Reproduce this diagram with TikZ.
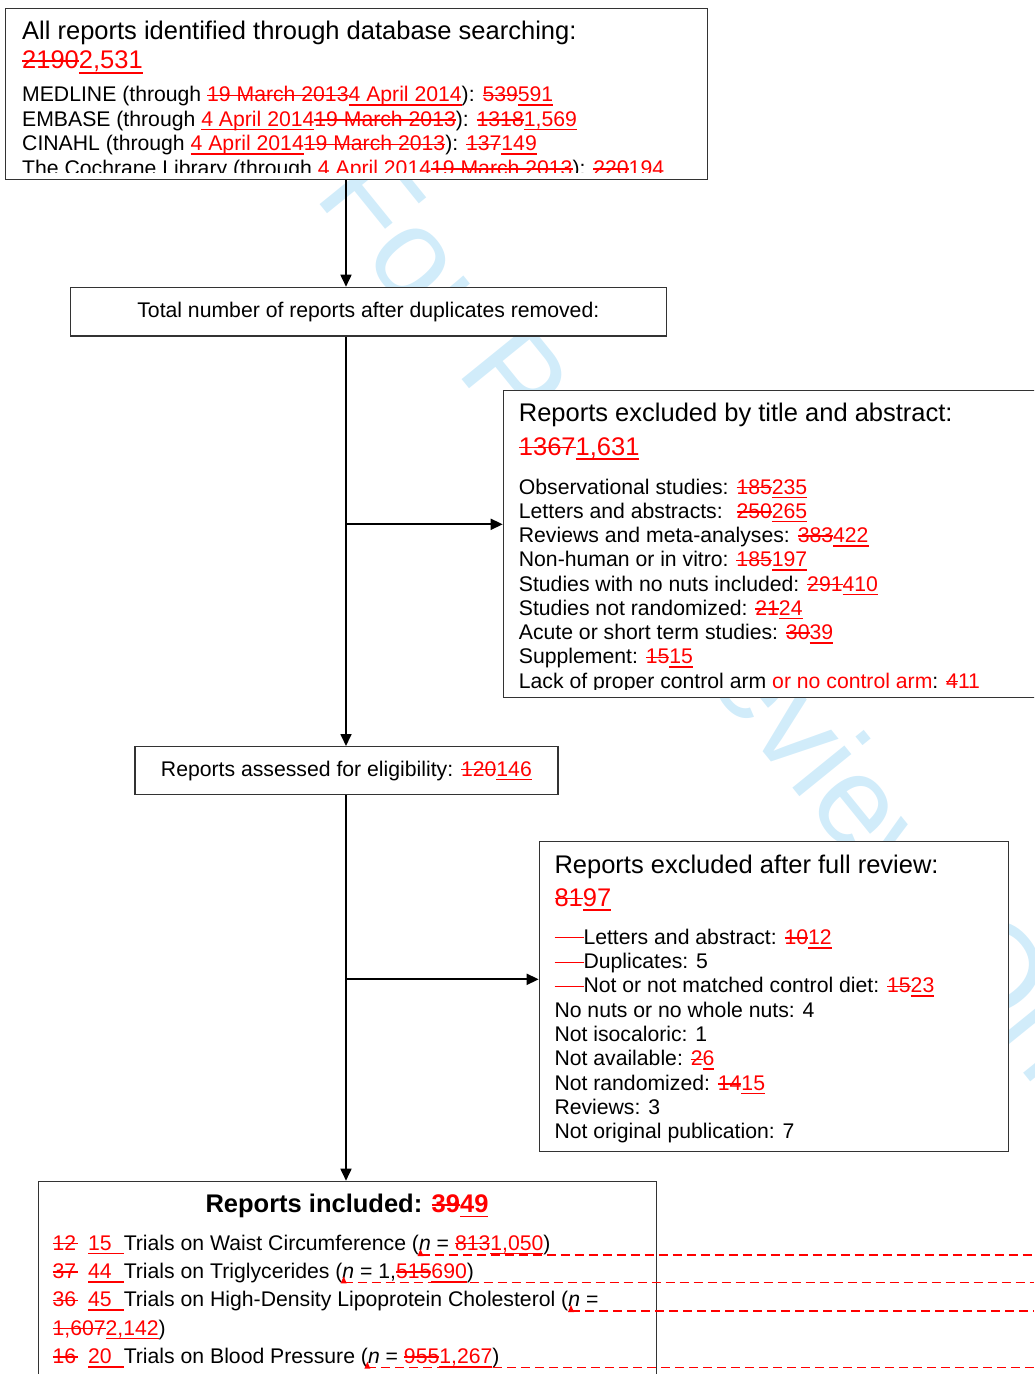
\documentclass[tikz,border=0pt]{standalone}
\usepackage{fontspec}
\setmainfont{Liberation Sans}
\usetikzlibrary{arrows.meta}
\newsavebox{\edbox}
\newcommand{\oldtxt}[1]{\textcolor{red}{\sbox\edbox{#1}\rlap{\rule[0.5ex]{\wd\edbox}{1.5pt}}\usebox\edbox}}
\newcommand{\newtxt}[1]{\textcolor{red}{\sbox\edbox{#1}\rlap{\rule[-0.2em]{\wd\edbox}{1.7pt}}\usebox\edbox}}
\newcommand{\redtxt}[1]{\textcolor{red}{#1}}
\newcommand{\tabdel}[1]{\textcolor{red}{\rule[6pt]{29pt}{#1}}}
\newcommand{\trialnum}[2]{\oldtxt{#1\hspace{2pt}}\hspace{10pt}\newtxt{#2\hspace{12pt}}}
\newcommand{\bodysize}{\fontsize{21.2}{24}\selectfont}
\newcommand{\headsize}{\fontsize{25.5}{30}\selectfont}
\definecolor{wmblue}{RGB}{209,236,250}
\tikzset{
  box/.style={draw=black!80,line width=1.2pt,fill=white,inner sep=0pt,anchor=north west},
  head/.style={font=\headsize,inner sep=0pt,anchor=base west},
  txt/.style={font=\bodysize,inner sep=0pt,anchor=base west},
  flow/.style={line width=1.7pt,-{Triangle[length=12pt,width=11pt]}},
  cmt/.style={red,line width=1.2pt,dash pattern=on 9pt off 5pt}
}
\begin{document}
\begin{tikzpicture}[x=1pt,y=-1pt]
\useasboundingbox (0,0) rectangle (1034,1374);
\clip (0,0) rectangle (1034,1374);
% watermark
\node[wmblue,font=\fontsize{126.7}{127}\selectfont,rotate=-51,inner sep=0pt,anchor=base west] (mark) at (313.6,196.3) {For Peer Review Only};

% boxes
\node[box,minimum width=702pt,minimum height=171pt] (search) at (5,8) {};
\node[box,font=\bodysize,minimum width=596pt,minimum height=48.6pt] (dupl) at (69.7,286.7) {Total number of reports after duplicates removed:};
\node[box,minimum width=545pt,minimum height=307.3pt] (excl1) at (502.7,389.7) {};
\node[box,font=\bodysize,minimum width=423pt,minimum height=48pt] (elig) at (134.3,746) {Reports assessed for eligibility: \oldtxt{120}\newtxt{146}};
\node[box,minimum width=469.3pt,minimum height=309.7pt] (excl2) at (538.7,841) {};
\node[box,minimum width=618pt,minimum height=220pt] (incl) at (37.7,1180.7) {};

% connectors
\coordinate (spine) at (346,0);
\coordinate (br1) at (346,524.3);
\coordinate (br2) at (346,979.3);
\draw[flow] (search.south -| spine) -- (dupl.north -| spine);
\draw[flow] (dupl.south -| spine) -- (elig.north -| spine);
\draw[flow] (elig.south -| spine) -- (incl.north -| spine);
\draw[flow] (br1) -- (br1 -| excl1.west);
\draw[flow] (br2) -- (br2 -| excl2.west);

% database search
\begin{scope}
\clip (5,8) rectangle (707,172);
\node[head] (s-title) at (22,39.3) {All reports identified through database searching:};
\node[head] (s-num) at (22,68.5) {\oldtxt{2190}\newtxt{2,531}};
\foreach \t [count=\i] in {
  {MEDLINE (through \oldtxt{19 March 2013}\newtxt{4 April 2014}): \oldtxt{539}\newtxt{591}},
  {EMBASE (through \newtxt{4 April 2014}\oldtxt{19 March 2013}): \oldtxt{1318}\newtxt{1,569}},
  {CINAHL (through \newtxt{4 April 2014}\oldtxt{19 March 2013}): \oldtxt{137}\newtxt{149}},
  {The Cochrane Library (through \newtxt{4 April 2014}\oldtxt{19 March 2013}): \oldtxt{220}\newtxt{194}}}
  \node[txt] (s-\i) at (22,{101.7+24.5*(\i-1)}) {\t};
\end{scope}

% excluded by title and abstract
\node[head] (x1-title) at (518.7,421.7) {Reports excluded by title and abstract:};
\node[head] (x1-num) at (518.7,455) {\oldtxt{1367}\newtxt{1,631}};
\begin{scope}
\clip (502.7,389.7) rectangle (1034,689);
\foreach \t [count=\i] in {
  {Observational studies: \oldtxt{185}\newtxt{235}},
  {Letters and abstracts: \ \oldtxt{250}\newtxt{265}},
  {Reviews and meta-analyses: \oldtxt{383}\newtxt{422}},
  {Non-human or in vitro: \oldtxt{185}\newtxt{197}},
  {Studies with no nuts included: \oldtxt{291}\newtxt{410}},
  {Studies not randomized: \oldtxt{21}\newtxt{24}},
  {Acute or short term studies: \oldtxt{30}\newtxt{39}},
  {Supplement: \oldtxt{15}\newtxt{15}},
  {Lack of proper control arm \redtxt{or no control arm}: \oldtxt{4}\newtxt{11}}}
  \node[txt] (x1-\i) at (518.7,{494+24.25*(\i-1)}) {\t};
\end{scope}

% excluded after full review
\node[head] (x2-title) at (554.3,873.3) {Reports excluded after full review:};
\node[head] (x2-num) at (554.3,906) {\oldtxt{81}\newtxt{97}};
\foreach \t [count=\i] in {
  {\tabdel{1.8pt}Letters and abstract: \oldtxt{10}\newtxt{12}},
  {\tabdel{0.8pt}Duplicates: 5},
  {\tabdel{0.8pt}Not or not matched control diet: \oldtxt{15}\newtxt{23}},
  {No nuts or no whole nuts: 4},
  {Not isocaloric: 1},
  {Not available: \oldtxt{2}\newtxt{6}},
  {Not randomized: \oldtxt{14}\newtxt{15}},
  {Reviews: 3},
  {Not original publication: 7}}
  \node[txt] (x2-\i) at (554.3,{944.3+24.3*(\i-1)}) {\t};

% included
\node[head,font=\headsize\bfseries,anchor=base] (i-title) at (347,1212.3) {Reports included: \oldtxt{39}\newtxt{49}};
\foreach \t [count=\i] in {
  {\trialnum{12}{15}Trials on Waist Circumference (\textit{n} = \oldtxt{813}\newtxt{1,050})},
  {\trialnum{37}{44}Trials on Triglycerides (\textit{n} = 1,\oldtxt{515}\newtxt{690})},
  {\trialnum{36}{45}Trials on High-Density Lipoprotein Cholesterol (\textit{n} =},
  {\oldtxt{1,607}\newtxt{2,142})},
  {\trialnum{16}{20}Trials on Blood Pressure (\textit{n} = \oldtxt{955}\newtxt{1,267})}}
  \node[txt] (i-\i) at (52.4,{1250+28.33*(\i-1)}) {\t};

% comment marks
\coordinate (edge) at (1034,0);
\coordinate (c1) at (420.5,1255);
\coordinate (c2) at (343.7,1282.3);
\coordinate (c3) at (571,1311);
\coordinate (c4) at (367.4,1367.7);
\foreach \c in {c1,c2,c3,c4} {
  \draw[cmt] (\c) -- (\c -| edge);
  \fill[red] (\c) ++(-3,1) -- ++(6,0) -- ++(-3,-7) -- cycle;
}
\end{tikzpicture}
\end{document}
